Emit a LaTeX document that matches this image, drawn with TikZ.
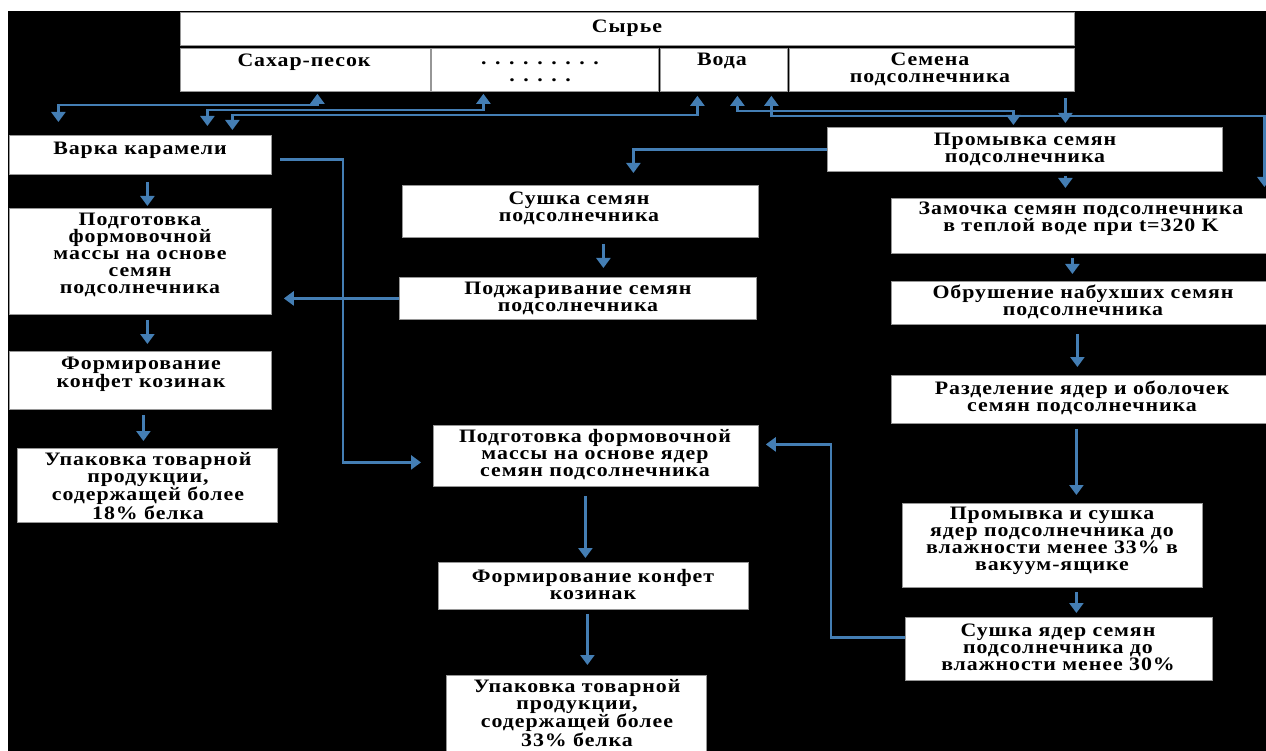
\documentclass[tikz,border=0pt]{standalone}
\usepackage{fontspec}
\setmainfont{Liberation Serif}[FakeStretch=1.15,LetterSpace=5]
\usetikzlibrary{arrows.meta}
\definecolor{flowblue}{RGB}{68,126,180}
\definecolor{edgegray}{RGB}{150,150,150}
\tikzset{
  stage/.style={rectangle, draw=edgegray, line width=0.8pt, fill=white,
    inner sep=0pt, anchor=north west},
  stagetext/.style={font=\bfseries\fontsize{19}{17}\selectfont, align=center,
    inner sep=0pt, text=black},
  flow/.style={draw=flowblue, line width=2.4pt,
    -{Triangle[width=14pt,length=10pt]}},
  dflow/.style={flow, {Triangle[width=14pt,length=10pt]}-{Triangle[width=14pt,length=10pt]}},
}
\begin{document}
\begin{tikzpicture}[x=1pt,y=-1pt]
  % page and dark backdrop
  \fill[white] (0,0) rectangle (1266,751);
  \fill[black] (8,11) rectangle (1266,751);
  \useasboundingbox (0,0) rectangle (1266,751);

  % raw materials table
  \node[stage, minimum width=894pt, minimum height=33pt] (header) at (180,12) {};
  \node[stage, minimum width=250pt, minimum height=43pt] (sahar) at (180,48) {};
  \node[stage, minimum width=227pt, minimum height=43pt] (dots) at (431,48) {};
  \node[stage, minimum width=127pt, minimum height=43pt] (voda) at (660,48) {};
  \node[stage, minimum width=285pt, minimum height=43pt] (semena) at (789,48) {};

  % left branch
  \node[stage, minimum width=262pt, minimum height=39pt] (varka) at (9,135) {};
  \node[stage, minimum width=262pt, minimum height=106pt] (podgA) at (9,208) {};
  \node[stage, minimum width=262pt, minimum height=58pt] (formA) at (9,351) {};
  \node[stage, minimum width=260pt, minimum height=74pt] (upakA) at (17,448) {};

  % middle branch
  \node[stage, minimum width=356pt, minimum height=52pt] (sushka) at (402,185) {};
  \node[stage, minimum width=357pt, minimum height=42pt] (podzh) at (399,277) {};
  \node[stage, minimum width=325pt, minimum height=61pt] (podgB) at (433,425) {};
  \node[stage, minimum width=310pt, minimum height=47pt] (formB) at (438,562) {};
  \node[stage, minimum width=260pt, minimum height=84pt] (upakB) at (446,675) {};

  % right branch
  \node[stage, minimum width=395pt, minimum height=44pt] (prom) at (827,127) {};
  \node[stage, minimum width=379pt, minimum height=55pt] (zam) at (891,198) {};
  \node[stage, minimum width=379pt, minimum height=43pt] (obr) at (891,281) {};
  \node[stage, minimum width=379pt, minimum height=48pt] (razd) at (891,375) {};
  \node[stage, minimum width=300pt, minimum height=84pt] (promsush) at (902,503) {};
  \node[stage, minimum width=307pt, minimum height=63pt] (sushyad) at (905,617) {};

  % texts
  \node[stagetext] (headert) at (627,28) {Сырье};
  \node[stagetext] (sahart) at (304,62) {Сахар-песок};
  \node[stagetext] (dotst) at (540,72) {. . . . . . . . .\\. . . . .};
  \node[stagetext] (vodat) at (722,61) {Вода};
  \node[stagetext] (semenat) at (930,69) {Семена\\подсолнечника};

  \node[stagetext] (varkat) at (140,150) {Варка карамели};
  \node[stagetext] (podgAt) at (140,255) {Подготовка\\формовочной\\массы на основе\\семян\\подсолнечника};
  \node[stagetext] (formAt) at (141,374) {Формирование\\конфет козинак};
  \node[stagetext] (upakAt) at (148,486) {Упаковка товарной\\продукции,\\содержащей более\\18\% белка};

  \node[stagetext] (sushkat) at (579,208) {Сушка семян\\подсолнечника};
  \node[stagetext] (podzht) at (578,298) {Поджаривание семян\\подсолнечника};
  \node[stagetext] (podgBt) at (595,455) {Подготовка формовочной\\массы на основе ядер\\семян подсолнечника};
  \node[stagetext] (formBt) at (593,584) {Формирование конфет\\козинак};
  \node[stagetext] (upakBt) at (577,713) {Упаковка товарной\\продукции,\\содержащей более\\33\% белка};

  \node[stagetext] (promt) at (1025,149) {Промывка семян\\подсолнечника};
  \node[stagetext] (zamt) at (1081,219) {Замочка семян подсолнечника\\в теплой воде при t=320 K};
  \node[stagetext] (obrt) at (1083,302) {Обрушение набухших семян\\подсолнечника};
  \node[stagetext] (razdt) at (1082,398) {Разделение ядер и оболочек\\семян подсолнечника};
  \node[stagetext] (promsusht) at (1052,541) {Промывка и сушка\\ядер подсолнечника до\\влажности менее 33\% в\\вакуум-ящике};
  \node[stagetext] (sushyadt) at (1058,647) {Сушка ядер семян\\подсолнечника до\\влажности менее 30\%};

  % raw materials to and from the process
  \draw[dflow, shorten <=2pt, shorten >=13pt]
    ([xshift=12pt]sahar.south) -- ++(0,13) -| ([xshift=-82pt]varka.north);
  \draw[dflow, shorten <=2pt, shorten >=9pt]
    ([xshift=-61.5pt]dots.south) -- ++(0,18) -| ([xshift=67pt]varka.north);
  \draw[dflow, shorten <=4pt, shorten >=5pt]
    ([xshift=-26.5pt]voda.south) -- ++(0,23) -| ([xshift=92pt]varka.north);
  \draw[dflow, shorten <=4pt, shorten >=2pt]
    ([xshift=13.5pt]voda.south) -- ++(0,19) -| ([xshift=-11.5pt]prom.north);
  \draw[dflow, shorten <=4pt, shorten >=11pt]
    ([xshift=47.5pt]voda.south) -- ++(0,24) -| ([xshift=183.5pt]zam.north);
  \draw[flow, shorten <=6pt, shorten >=4pt]
    ([xshift=133.5pt]semena.south) -- ([xshift=40.5pt]prom.north);

  % left branch flow
  \draw[flow, shorten <=7pt, shorten >=2pt]
    ([xshift=7pt]varka.south) -- ([xshift=7pt]podgA.north);
  \draw[flow, shorten <=5pt, shorten >=7pt]
    ([xshift=7pt]podgA.south) -- ([xshift=7pt]formA.north);
  \draw[flow, shorten <=5pt, shorten >=7pt]
    ([xshift=3pt]formA.south) -- ([xshift=-4pt]upakA.north);

  % middle branch flow
  \draw[flow, shorten >=12pt]
    (prom.west) -| ([xshift=53pt]sushka.north);
  \draw[flow, shorten <=6pt, shorten >=9pt]
    ([xshift=23pt]sushka.south) -- ([xshift=25.5pt]podzh.north);
  \draw[flow, shorten >=12pt]
    (podzh.west) -- (podgA.east |- podzh.west);
  \draw[flow, shorten <=8pt, shorten >=12pt]
    ([yshift=-4.5pt]varka.east) -- ++(71,0) |- ([yshift=-6.5pt]podgB.west);
  \draw[flow, shorten <=9pt, shorten >=4pt]
    ([xshift=-10.5pt]podgB.south) -- ([xshift=-8pt]formB.north);
  \draw[flow, shorten <=4pt, shorten >=10pt]
    ([xshift=-6pt]formB.south) -- ([xshift=11pt]upakB.north);

  % right branch flow
  \draw[flow, shorten <=4pt, shorten >=10pt]
    ([xshift=40.5pt]prom.south) -- ([xshift=-15.5pt]zam.north);
  \draw[flow, shorten <=4pt, shorten >=7pt]
    ([xshift=-8.5pt]zam.south) -- ([xshift=-8.5pt]obr.north);
  \draw[flow, shorten <=9pt, shorten >=8pt]
    ([xshift=-3.5pt]obr.south) -- ([xshift=-3.5pt]razd.north);
  \draw[flow, shorten <=5pt, shorten >=8pt]
    ([xshift=-4.5pt]razd.south) -- ([xshift=24pt]promsush.north);
  \draw[flow, shorten <=4pt, shorten >=4pt]
    ([xshift=24pt]promsush.south) -- ([xshift=17.5pt]sushyad.north);
  \draw[flow, shorten >=7pt]
    ([yshift=11.5pt]sushyad.west) -- ++(-74,0) |- ([yshift=11.5pt]podgB.east);
\end{tikzpicture}
\end{document}
